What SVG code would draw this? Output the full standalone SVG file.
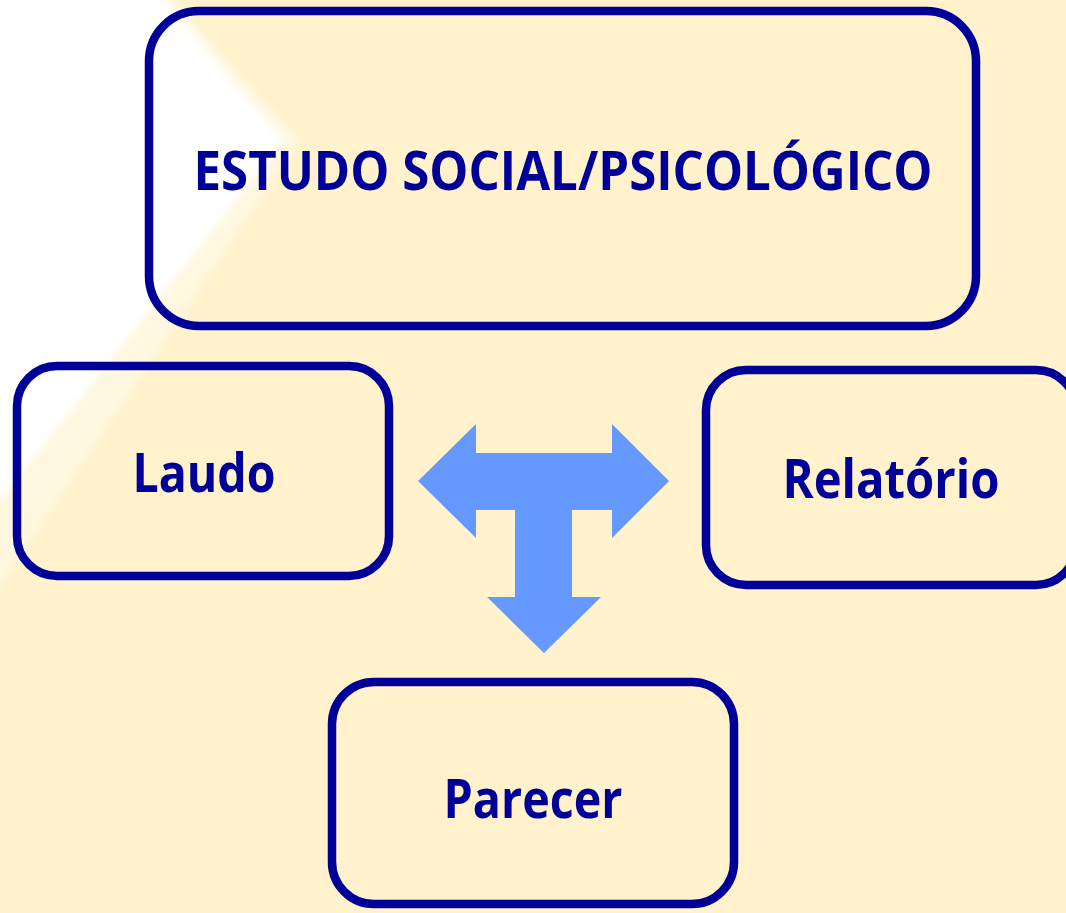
<svg xmlns="http://www.w3.org/2000/svg" width="1066" height="913" viewBox="0 0 1066 913">
  <defs>
    <filter id="soft" x="-20%" y="-20%" width="140%" height="140%">
      <feGaussianBlur stdDeviation="5"/>
    </filter>
    <style>
      .box { fill: none; stroke: #000099; stroke-width: 8.5; }
      .lbl { font-family: "Open Sans", "Liberation Sans", sans-serif; font-weight: 700; fill: #000099; text-anchor: middle; }
    </style>
  </defs>
  <rect width="1066" height="913" fill="#FFF2CC"/>
  <g id="background-streak">
    <polygon points="-20,-20 152,-20 288,140 -20,530" fill="#FFFFFF" filter="url(#soft)"/>
    <polygon points="152,-10 300,140 -10,600 -10,520 285,140" fill="#FFF9E6" filter="url(#soft)" opacity="0.8"/>
  </g>
  <g id="connectors">
    <polygon points="418,481 476,424 476,453 612,453 612,424 669,481 612,538 612,510 572,510 572,597 601,597 544,653 487,597 515,597 515,510 476,510 476,538" fill="#6699FF"/>
  </g>
  <g id="node-estudo">
    <rect class="box" x="149" y="11" width="827" height="315" rx="50"/>
    <text class="lbl" x="563" y="190" font-size="53" textLength="739" lengthAdjust="spacingAndGlyphs">ESTUDO SOCIAL/PSICOLÓGICO</text>
  </g>
  <g id="node-laudo">
    <rect class="box" x="17" y="366" width="372" height="210" rx="40"/>
    <text class="lbl" x="204" y="492" font-size="54" textLength="143" lengthAdjust="spacingAndGlyphs">Laudo</text>
  </g>
  <g id="node-relatorio">
    <rect class="box" x="706" y="370" width="370" height="215" rx="40"/>
    <text class="lbl" x="891" y="498" font-size="54" textLength="217" lengthAdjust="spacingAndGlyphs">Relatório</text>
  </g>
  <g id="node-parecer">
    <rect class="box" x="332" y="682" width="402" height="222" rx="42"/>
    <text class="lbl" x="533" y="818" font-size="54" textLength="179" lengthAdjust="spacingAndGlyphs">Parecer</text>
  </g>
</svg>
